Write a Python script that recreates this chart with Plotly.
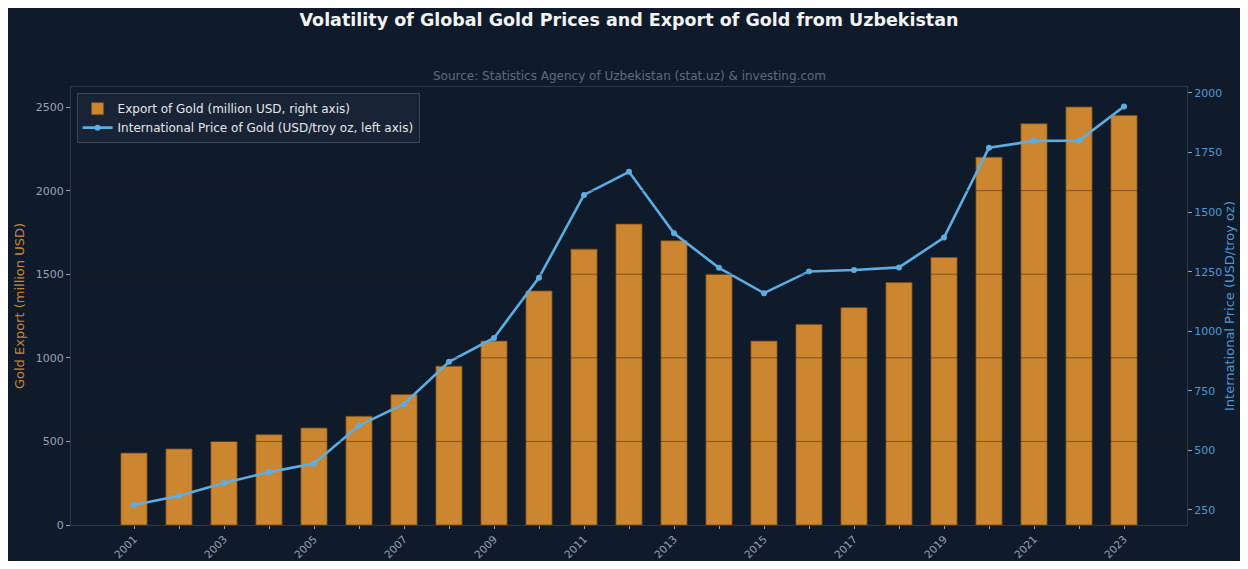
import plotly.graph_objects as go

years = list(range(2001, 2024))
export_gold = [430, 455, 500, 540, 580, 650, 780, 950, 1100, 1400, 1650, 1800, 1700,
               1500, 1100, 1200, 1300, 1450, 1600, 2200, 2400, 2500, 2450]
gold_price = [271, 310, 363, 409, 445, 604, 695, 872, 972, 1225, 1572, 1669, 1411,
              1266, 1160, 1251, 1257, 1268, 1393, 1770, 1799, 1800, 1943]
left_ticks = [0, 500, 1000, 1500, 2000, 2500]
right_ticks = [250, 500, 750, 1000, 1250, 1500, 1750, 2000]
x_tick_text = [str(y) if (y - 2001) % 2 == 0 else "" for y in years]

BG = "#0f1b2b"
FONT = "DejaVu Sans"
ORANGE = "#cd8630"
BLUE = "#5dade2"
GRAY = "#9aa3b2"
SPINE = "#2c3748"

W, H = 1232, 553  # fits inside the page body (8px default margin)

fig = go.Figure()
fig.add_trace(go.Bar(
    x=years, y=export_gold, name="Export of Gold (million USD, right axis)",
    marker=dict(color=ORANGE, line=dict(color="#7a4f1c", width=0.8)),
    width=0.58, yaxis="y",
))
fig.add_trace(go.Scatter(
    x=years, y=gold_price, name="International Price of Gold (USD/troy oz, left axis)",
    mode="lines+markers", line=dict(color=BLUE, width=2.6),
    marker=dict(color=BLUE, size=6), yaxis="y2",
))

# faint grid lines drawn above bars (as in the reference)
for v in left_ticks[1:-1]:
    fig.add_shape(type="line", xref="paper", yref="y", x0=0, x1=1, y0=v, y1=v,
                  line=dict(color="rgba(40,25,10,0.45)", width=1), layer="above")

fig.update_layout(
    width=W, height=H,
    paper_bgcolor=BG, plot_bgcolor=BG,
    font=dict(family=FONT, color=GRAY, size=11),
    margin=dict(l=63, r=53, t=79, b=36),
    title=dict(text="<b>Volatility of Global Gold Prices and Export of Gold from Uzbekistan</b>",
               x=0.5, xref="paper", xanchor="center", y=1 - 12 / H, yref="container",
               yanchor="middle", font=dict(family=FONT, size=17.5, color="#f2f2f2"),
               automargin=False),
    annotations=[dict(text="Source: Statistics Agency of Uzbekistan (stat.uz) & investing.com",
                      x=0.5, xref="paper", y=(525 - 76) / 438, yref="paper",
                      xanchor="center", yanchor="middle", showarrow=False,
                      font=dict(family=FONT, size=12, color="#5f6b7c"))],
    xaxis=dict(range=[1999.6, 2024.4], tickmode="array", tickvals=years, ticktext=x_tick_text,
               tickangle=-45, ticks="outside", ticklen=3, tickcolor=GRAY, automargin=False,
               showgrid=False, zeroline=False, showline=True, linecolor=SPINE, mirror=True,
               tickfont=dict(color=GRAY, size=10.5)),
    yaxis=dict(range=[0, 2620], tickvals=left_ticks, ticks="outside", ticklen=4, tickcolor=GRAY,
               showgrid=False, zeroline=False, showline=True, linecolor=SPINE, mirror=True,
               automargin=False,
               title=dict(text="Gold Export (million USD)", font=dict(color="#c8853a", size=13), standoff=8),
               tickfont=dict(color=GRAY, size=11)),
    yaxis2=dict(range=[187, 2025], overlaying="y", side="right", tickvals=right_ticks,
                ticks="outside", ticklen=4, tickcolor=GRAY, showgrid=False, zeroline=False,
                showline=False, automargin=False,
                title=dict(text="International Price (USD/troy oz)", font=dict(color="#4f98d2", size=13), standoff=3),
                tickfont=dict(color="#4f98d2", size=11)),
    legend=dict(x=0.005, y=0.986, xanchor="left", yanchor="top", bgcolor="#182436",
                bordercolor="#3a4657", borderwidth=1, font=dict(color="#e6e6e6", size=12),
                tracegroupgap=0, itemwidth=30),
    showlegend=True,
)

fig.write_html("out.html")
